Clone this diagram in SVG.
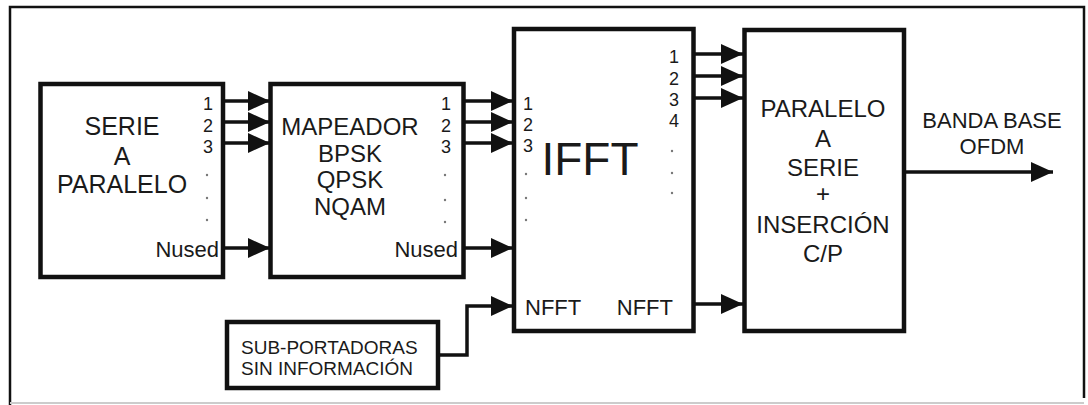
<svg xmlns="http://www.w3.org/2000/svg" width="1088" height="405" viewBox="0 0 1088 405">
<style>
.box{fill:#fff;stroke:#111;stroke-width:4.5}
.ln{fill:none;stroke:#111;stroke-width:3.5}
.t{font-family:"Liberation Sans",Arial,sans-serif;fill:#1a1a1a}
.big{font-size:25px;text-anchor:middle}
.mid{font-size:24px;text-anchor:middle}
.num{font-size:18px;text-anchor:middle}
.lbl{font-size:22px}
.dot{fill:#777}
</style>
<defs>
<marker id="ah" markerUnits="userSpaceOnUse" markerWidth="22" markerHeight="20" refX="22" refY="10" orient="auto">
<path d="M0,0 L22,10 L0,20 z" fill="#111"/>
</marker>
</defs>
<rect width="1088" height="405" fill="#fff"/>
<g id="frame">
<path d="M10,405 V7 H1084 V398" fill="none" stroke="#111" stroke-width="2.5"/>
<line x1="10" y1="403" x2="1084" y2="403" stroke="#ccc" stroke-width="2"/>
</g>
<g id="serie-paralelo">
<rect class="box" x="40.5" y="84" width="182.5" height="193"/>
<text class="t big" x="122" y="135">SERIE</text>
<text class="t big" x="122" y="165">A</text>
<text class="t big" x="122" y="193">PARALELO</text>
<text class="t num" x="208" y="110">1</text>
<text class="t num" x="208" y="132">2</text>
<text class="t num" x="208" y="153">3</text>
<circle class="dot" cx="207" cy="175" r="1.2"/>
<circle class="dot" cx="207" cy="198" r="1.2"/>
<circle class="dot" cx="207" cy="220" r="1.2"/>
<text class="t lbl" x="219" y="257" text-anchor="end">Nused</text>
</g>
<g id="mapeador">
<rect class="box" x="270.5" y="84" width="193" height="193"/>
<text class="t mid" x="350" y="135">MAPEADOR</text>
<text class="t mid" x="350" y="162">BPSK</text>
<text class="t mid" x="350" y="188">QPSK</text>
<text class="t mid" x="350" y="215">NQAM</text>
<text class="t num" x="446" y="110">1</text>
<text class="t num" x="446" y="132">2</text>
<text class="t num" x="446" y="153">3</text>
<circle class="dot" cx="445" cy="175" r="1.2"/>
<circle class="dot" cx="445" cy="200" r="1.2"/>
<circle class="dot" cx="445" cy="222" r="1.2"/>
<text class="t lbl" x="458" y="257" text-anchor="end">Nused</text>
</g>
<g id="ifft">
<rect class="box" x="514" y="29" width="179.5" height="302"/>
<text class="t" x="590" y="175" font-size="46" text-anchor="middle">IFFT</text>
<text class="t num" x="528" y="110">1</text>
<text class="t num" x="528" y="131">2</text>
<text class="t num" x="528" y="152">3</text>
<circle class="dot" cx="526" cy="174" r="1.2"/>
<circle class="dot" cx="526" cy="198" r="1.2"/>
<circle class="dot" cx="526" cy="220" r="1.2"/>
<text class="t num" x="674" y="63">1</text>
<text class="t num" x="674" y="85">2</text>
<text class="t num" x="674" y="106">3</text>
<text class="t num" x="674" y="127">4</text>
<circle class="dot" cx="672" cy="151" r="1.2"/>
<circle class="dot" cx="672" cy="173" r="1.2"/>
<circle class="dot" cx="672" cy="193" r="1.2"/>
<text class="t lbl" x="525" y="315">NFFT</text>
<text class="t lbl" x="673" y="315" text-anchor="end">NFFT</text>
</g>
<g id="paralelo-serie">
<rect class="box" x="744.5" y="30" width="159.5" height="301"/>
<text class="t mid" x="823" y="117">PARALELO</text>
<text class="t mid" x="823" y="147">A</text>
<text class="t mid" x="823" y="176">SERIE</text>
<text class="t mid" x="823" y="202">+</text>
<text class="t mid" x="823" y="233">INSERCIÓN</text>
<text class="t mid" x="823" y="262">C/P</text>
</g>
<g id="subportadoras">
<rect class="box" x="227" y="322" width="211" height="66"/>
<text class="t" x="241" y="354" font-size="19">SUB-PORTADORAS</text>
<text class="t" x="241" y="375" font-size="19">SIN INFORMACIÓN</text>
</g>
<g id="salida-label">
<text class="t lbl" x="992" y="128" text-anchor="middle">BANDA BASE</text>
<text class="t lbl" x="992" y="154" text-anchor="middle">OFDM</text>
</g>
<g id="connectors">
<line class="ln" x1="223" y1="101" x2="270" y2="101" marker-end="url(#ah)"/>
<line class="ln" x1="223" y1="122" x2="270" y2="122" marker-end="url(#ah)"/>
<line class="ln" x1="223" y1="143" x2="270" y2="143" marker-end="url(#ah)"/>
<line class="ln" x1="223" y1="248" x2="270" y2="248" marker-end="url(#ah)"/>
<line class="ln" x1="463" y1="101" x2="513" y2="101" marker-end="url(#ah)"/>
<line class="ln" x1="463" y1="122" x2="513" y2="122" marker-end="url(#ah)"/>
<line class="ln" x1="463" y1="143" x2="513" y2="143" marker-end="url(#ah)"/>
<line class="ln" x1="463" y1="248" x2="513" y2="248" marker-end="url(#ah)"/>
<line class="ln" x1="693" y1="54" x2="743" y2="54" marker-end="url(#ah)"/>
<line class="ln" x1="693" y1="76" x2="743" y2="76" marker-end="url(#ah)"/>
<line class="ln" x1="693" y1="98" x2="743" y2="98" marker-end="url(#ah)"/>
<line class="ln" x1="693" y1="304" x2="743" y2="304" marker-end="url(#ah)"/>
<polyline class="ln" points="438,355 467,355 467,306 513,306" marker-end="url(#ah)"/>
<line class="ln" x1="904" y1="172" x2="1053" y2="172" marker-end="url(#ah)"/>
</g>
</svg>
